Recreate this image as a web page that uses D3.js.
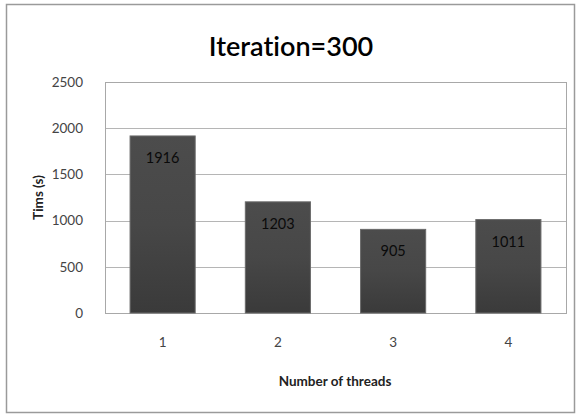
<!DOCTYPE html>
<html>
<head>
<meta charset="utf-8">
<script src="https://cdn.jsdelivr.net/npm/d3@7"></script>
<style>
  html, body { margin: 0; padding: 0; background: #fff; }
  svg { display: block; font-family: Lato, "Open Sans", sans-serif; font-variant-ligatures: none; }
</style>
</head>
<body>
<svg id="chart" width="577" height="416"></svg>
<script>
// Run time per thread count
const threads = ["1", "2", "3", "4"];
const times = [1916, 1203, 905, 1011];
const yTicks = [0, 500, 1000, 1500, 2000, 2500];
const chartTitle = "Iteration=300";
const xTitle = "Number of threads";
const yTitle = "Tims (s)";

const svg = d3.select("#chart");
const plot = { left: 105, right: 566, top: 82, bottom: 313 };

// Outer frame
svg.append("rect")
  .attr("x", 6.5).attr("y", 4.5)
  .attr("width", 568).attr("height", 408)
  .attr("fill", "#fff")
  .attr("stroke", "#9a9a9a")
  .attr("stroke-width", 1.5);

const x = d3.scaleBand()
  .domain(threads)
  .range([plot.left, plot.right])
  .paddingInner(0.435)
  .paddingOuter(0.2175);

const y = d3.scaleLinear()
  .domain([0, 2500])
  .range([plot.bottom, plot.top]);

// Bar gradient
const defs = svg.append("defs");
const grad = defs.append("linearGradient")
  .attr("id", "barFill")
  .attr("x1", 0).attr("y1", 0).attr("x2", 0).attr("y2", 1);
grad.append("stop").attr("offset", "0%").attr("stop-color", "#4c4c4c");
grad.append("stop").attr("offset", "50%").attr("stop-color", "#474747");
grad.append("stop").attr("offset", "100%").attr("stop-color", "#3a3a3a");

// Gridlines
svg.append("g")
  .selectAll("line")
  .data(yTicks)
  .join("line")
  .attr("x1", plot.left).attr("x2", plot.right)
  .attr("y1", d => Math.round(y(d)) + 0.5)
  .attr("y2", d => Math.round(y(d)) + 0.5)
  .attr("stroke", "#b5b5b5")
  .attr("stroke-width", 1);

// Plot area border
svg.append("rect")
  .attr("x", plot.left + 0.5).attr("y", Math.round(plot.top) + 0.5)
  .attr("width", plot.right - plot.left)
  .attr("height", Math.round(plot.bottom) - Math.round(plot.top))
  .attr("fill", "none")
  .attr("stroke", "#a8a8a8");

// Y axis labels
const yAxis = d3.axisLeft(y).tickValues(yTicks).tickFormat(d3.format("d"))
  .tickSize(0).tickPadding(22);
const gy = svg.append("g")
  .attr("transform", `translate(${plot.left},0)`)
  .call(yAxis);
gy.select(".domain").remove();
gy.selectAll("text")
  .attr("font-family", "Lato, sans-serif")
  .attr("font-size", 13.5)
  .attr("fill", "#444");

// X axis labels
const xAxis = d3.axisBottom(x).tickSize(0).tickPadding(24);
const gx = svg.append("g")
  .attr("transform", `translate(0,${plot.bottom})`)
  .call(xAxis);
gx.select(".domain").remove();
gx.selectAll("text")
  .attr("font-family", "Lato, sans-serif")
  .attr("font-size", 13.5)
  .attr("fill", "#444");

// Bars
svg.append("g")
  .selectAll("rect")
  .data(times)
  .join("rect")
  .attr("x", (d, i) => x(threads[i]))
  .attr("y", d => y(d))
  .attr("width", x.bandwidth())
  .attr("height", d => y(0) - y(d))
  .attr("fill", "url(#barFill)")
  .attr("stroke", "#6a6a6a")
  .attr("stroke-width", 1);

// Value labels inside bars
svg.append("g")
  .selectAll("text")
  .data(times)
  .join("text")
  .attr("x", (d, i) => x(threads[i]) + x.bandwidth() / 2)
  .attr("y", d => y(d) + 27)
  .attr("text-anchor", "middle")
  .attr("font-size", 14.5)
  .attr("fill", "#0a0a0a")
  .text(d => d);

// Titles
svg.append("text")
  .attr("x", 291).attr("y", 56)
  .attr("text-anchor", "middle")
  .attr("font-size", 27)
  .attr("font-weight", 600)
  .attr("fill", "#000")
  .text(chartTitle);

svg.append("text")
  .attr("x", 335).attr("y", 386)
  .attr("text-anchor", "middle")
  .attr("font-size", 13.5)
  .attr("font-weight", "bold")
  .attr("fill", "#222")
  .text(xTitle);

svg.append("text")
  .attr("transform", `translate(43,${(plot.top + plot.bottom) / 2}) rotate(-90)`)
  .attr("text-anchor", "middle")
  .attr("font-size", 13.5)
  .attr("font-weight", "bold")
  .attr("fill", "#222")
  .text(yTitle);
</script>
</body>
</html>
